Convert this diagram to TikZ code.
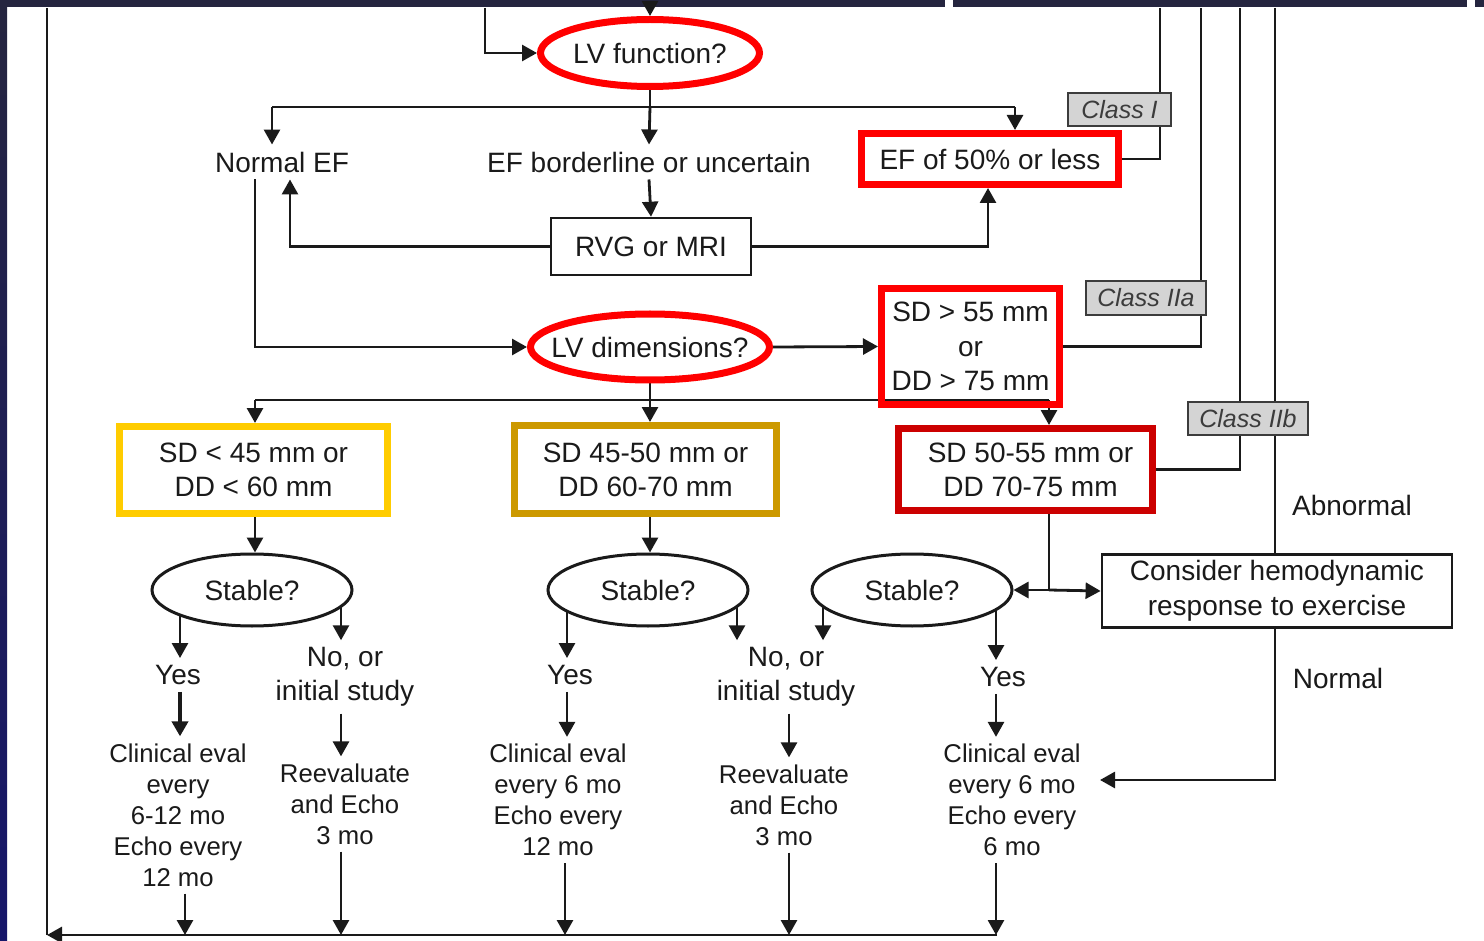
\documentclass[tikz,border=0pt]{standalone}
\usepackage{fontspec}
\setmainfont{Liberation Sans}
\usetikzlibrary{shapes.geometric,arrows.meta}
\pgfdeclarelayer{back}
\pgfdeclarelayer{bg}
\pgfsetlayers{back,bg,main}
\definecolor{navytop}{HTML}{25253F}
\definecolor{navybot}{HTML}{16166A}
\definecolor{ink}{HTML}{1A1A1A}
\definecolor{redline}{HTML}{FF0000}
\definecolor{darkred}{HTML}{CC0000}
\definecolor{yellowline}{HTML}{FFCC00}
\definecolor{goldline}{HTML}{CC9900}
\definecolor{classgray}{HTML}{D4D4D4}
\begin{document}
\begin{tikzpicture}[x=1pt,y=-1pt,
  big/.style={font=\fontsize{28}{34}\selectfont},
  small/.style={font=\fontsize{25.7}{31}\selectfont},
  txt/.style={big, align=center, inner sep=7pt, text=ink},
  stxt/.style={small, align=center, inner sep=7pt, text=ink},
  redell/.style={ellipse, draw=redline, line width=7pt, fill=white, inner sep=0pt, big, text=ink},
  blkell/.style={ellipse, draw=ink, line width=3pt, fill=white, inner sep=0pt, big, text=ink,
                 minimum width=200pt, minimum height=72pt},
  box/.style={rectangle, draw, inner sep=0pt, align=center, big, text=ink},
  cls/.style={rectangle, draw=ink!85, line width=2.4pt, fill=classgray, inner sep=0pt,
              text=ink!85, font=\fontsize{25}{30}\selectfont\itshape},
  conn/.style={draw=ink, line width=2.8pt},
  arr/.style={conn, -{Triangle[width=16pt,length=15pt]}},
]
\useasboundingbox (0,0) rectangle (1484,941);
% background and frame
\begin{pgfonlayer}{back}
\fill[white] (0,0) rectangle (1484,941);
\shade[top color=navytop, bottom color=navybot] (0,0) rectangle (7,941);
\fill[navytop] (0,0) rectangle (945,7);
\fill[navytop] (953,0) rectangle (1467,7);
\fill[navytop] (1475,0) rectangle (1484,7);
\end{pgfonlayer}

% ---------- nodes ----------
\node[redell, minimum width=219pt, minimum height=67pt] (lvf) at (650,53) {LV function?};
\node[txt] (normalef) at (282,162) {Normal EF};
\node[txt] (efb) at (649,162) {EF borderline or uncertain};
\node[box, draw=redline, line width=7pt, minimum width=257pt, minimum height=51pt] (ef50) at (990,159) {EF of 50\% or less};
\node[box, draw=ink, line width=2.6pt, minimum width=200pt, minimum height=57pt] (rvg) at (651,246.5) {RVG or MRI};

\node[redell, minimum width=239pt, minimum height=66pt] (lvd) at (650,347) {};
\node[big, text=ink, inner sep=0pt] (lvdt) at (lvd) {LV dimensions?};
\node[box, draw=redline, line width=7pt, minimum width=178pt, minimum height=116pt,
      font=\fontsize{28}{34.5}\selectfont] (sd55) at (970.5,346.5) {SD > 55 mm\\or\\DD > 75 mm};

\node[box, draw=yellowline, line width=7pt, minimum width=268pt, minimum height=87pt] (sd45) at (253.5,470) {SD < 45 mm or\\DD < 60 mm};
\node[box, draw=goldline, line width=7pt, minimum width=262pt, minimum height=88pt] (sd4550) at (645.5,469.5) {SD 45-50 mm or\\DD 60-70 mm};
\node[box, draw=darkred, line width=7pt, minimum width=254pt, minimum height=82pt] (sd5055) at (1025.5,469.5) {\hspace*{10pt}SD 50-55 mm or\\\hspace*{10pt}DD 70-75 mm};

\node[blkell] (st1) at (252,590) {Stable?};
\node[blkell] (st2) at (648,590) {Stable?};
\node[blkell] (st3) at (912,590) {Stable?};
\node[box, draw=ink, line width=2.8pt, fill=white, minimum width=350pt, minimum height=73pt,
      font=\fontsize{28}{35}\selectfont] (cons) at (1277,591) {Consider hemodynamic\\response to exercise};

\node[txt] (abn) at (1352,505) {Abnormal};
\node[txt] (nrm) at (1338,678) {Normal};

\node[txt] (yes1) at (178,675) {Yes};
\node[txt] (yes2) at (570,675) {Yes};
\node[txt] (yes3) at (1003,677) {Yes};
\node[txt] (no1) at (345,677) {No, or\\initial study};
\node[txt] (no2) at (786,677) {No, or\\initial study};

\node[stxt] (ce1) at (178,815) {Clinical eval\\every\\6-12 mo\\Echo every\\12 mo};
\node[stxt] (re1) at (345,804) {Reevaluate\\and Echo\\3 mo};
\node[stxt] (ce2) at (558,800) {Clinical eval\\every 6 mo\\Echo every\\12 mo};
\node[stxt] (re2) at (784,805) {Reevaluate\\and Echo\\3 mo};
\node[stxt] (ce3) at (1012,800) {Clinical eval\\every 6 mo\\Echo every\\6 mo};

% ---------- coordinates ----------
\coordinate (inTop) at (650,8);
\coordinate (inLeft) at (485,8);
\coordinate (loopTop) at (47,8);
\coordinate (loopBot) at (47,935);
\coordinate (botR) at (997,935);
\coordinate (c1) at (1160,8);
\coordinate (c2a) at (1201,8);
\coordinate (c2b) at (1240,8);
\coordinate (cab) at (1275,8);
\coordinate (j1) at (650,107);
\coordinate (j1L) at (272,107);
\coordinate (j1R) at (1015,107);
\coordinate (j2) at (650,400);
\coordinate (j2L) at (255,400);
\coordinate (j2R) at (1049,400);
\coordinate (j3) at (1049,590);
\coordinate (nret) at (1100,780);
\coordinate (ax0) at (255,0);
\coordinate (ax1) at (180,0);
\coordinate (ax2) at (341,0);
\coordinate (ax3) at (567,0);
\coordinate (ax4) at (737,0);
\coordinate (ax5) at (823,0);
\coordinate (ax6) at (996,0);
\coordinate (ax7) at (789,0);
\coordinate (ax8) at (185,0);
\coordinate (ax9) at (565,0);
\coordinate (axr) at (290,0);
\coordinate (axe) at (988,0);

% ---------- connectors ----------
\begin{pgfonlayer}{bg}
\draw[arr] (inTop) -- (lvf.north);
\draw[arr] (inLeft) |- (lvf.west);
\draw[conn] (lvf.south) -- (j1);
\draw[conn] (j1L) -- (j1R);
\draw[arr] (j1L) -- (j1L |- normalef.north);
\draw[arr] (j1) -- (efb.north);
\draw[arr] (j1R) -- (j1R |- ef50.north);
\draw[arr] (efb.south) -- (rvg.north);
\draw[arr] (rvg.west) -| (axr |- normalef.south);
\draw[arr] (rvg.east) -| (axe |- ef50.south);
\draw[conn] (ef50.east) -| (c1);
\draw[conn] (sd55.east) -| (c2a);
\draw[conn] (sd5055.east) -| (c2b);
\draw[conn] (cab) -- (cab |- cons.north);
\draw[arr] (cab |- cons.south) |- (nret);

\draw[arr] (ax0 |- normalef.south) |- (lvd.west);
\draw[arr] (lvd.east) -- (sd55.west);
\draw[conn] (lvd.south) -- (j2);
\draw[conn] (j2L) -- (j2R);
\draw[arr] (j2L) -- (j2L |- sd45.north);
\draw[arr] (j2) -- (j2 |- sd4550.north);
\draw[arr] (j2R) -- (j2R |- sd5055.north);
\draw[arr] (j2L |- sd45.south) -- (j2L |- st1.north);
\draw[arr] (j2 |- sd4550.south) -- (j2 |- st2.north);
\draw[conn] (j2R |- sd5055.south) -- (j3);
\draw[arr] (j3) -- (st3.east);
\draw[arr] (j3) -- (cons.west);

\draw[arr] (ax1 |- st1) -- (ax1 |- yes1.north);
\draw[arr] (ax2 |- st1) -- (ax2 |- no1.north);
\draw[arr] (ax3 |- st2) -- (ax3 |- yes2.north);
\draw[arr] (ax4 |- st2) -- (ax4 |- no2.north);
\draw[arr] (ax5 |- st3) -- (ax5 |- no2.north);
\draw[arr] (ax6 |- st3) -- (ax6 |- yes3.north);

\draw[arr, line width=4pt] (ax1 |- yes1.south) -- (ax1 |- ce1.north);
\draw[arr] (ax3 |- yes2.south) -- (ax3 |- ce2.north);
\draw[arr] (ax6 |- yes3.south) -- (ax6 |- ce3.north);
\draw[arr] (ax2 |- no1.south) -- (ax2 |- re1.north);
\draw[arr] (ax7 |- no2.south) -- (ax7 |- re2.north);

\draw[arr] (ax8 |- ce1.south) -- (ax8 |- loopBot);
\draw[arr] (ax2 |- re1.south) -- (ax2 |- loopBot);
\draw[arr] (ax9 |- ce2.south) -- (ax9 |- loopBot);
\draw[arr] (ax7 |- re2.south) -- (ax7 |- loopBot);
\draw[arr] (ax6 |- ce3.south) -- (ax6 |- loopBot);
\draw[arr] (botR) -- (loopBot);
\draw[conn] (loopBot) -- (loopTop);
\end{pgfonlayer}

% class labels on top of their lines
\node[cls, minimum width=103pt, minimum height=33pt] (clsI) at (1119.5,109.5) {Class I};
\node[cls, minimum width=120pt, minimum height=34pt] (clsIIa) at (1146,298) {Class IIa};
\node[cls, minimum width=120pt, minimum height=33pt] (clsIIb) at (1248,418.5) {Class IIb};
\end{tikzpicture}
\end{document}
